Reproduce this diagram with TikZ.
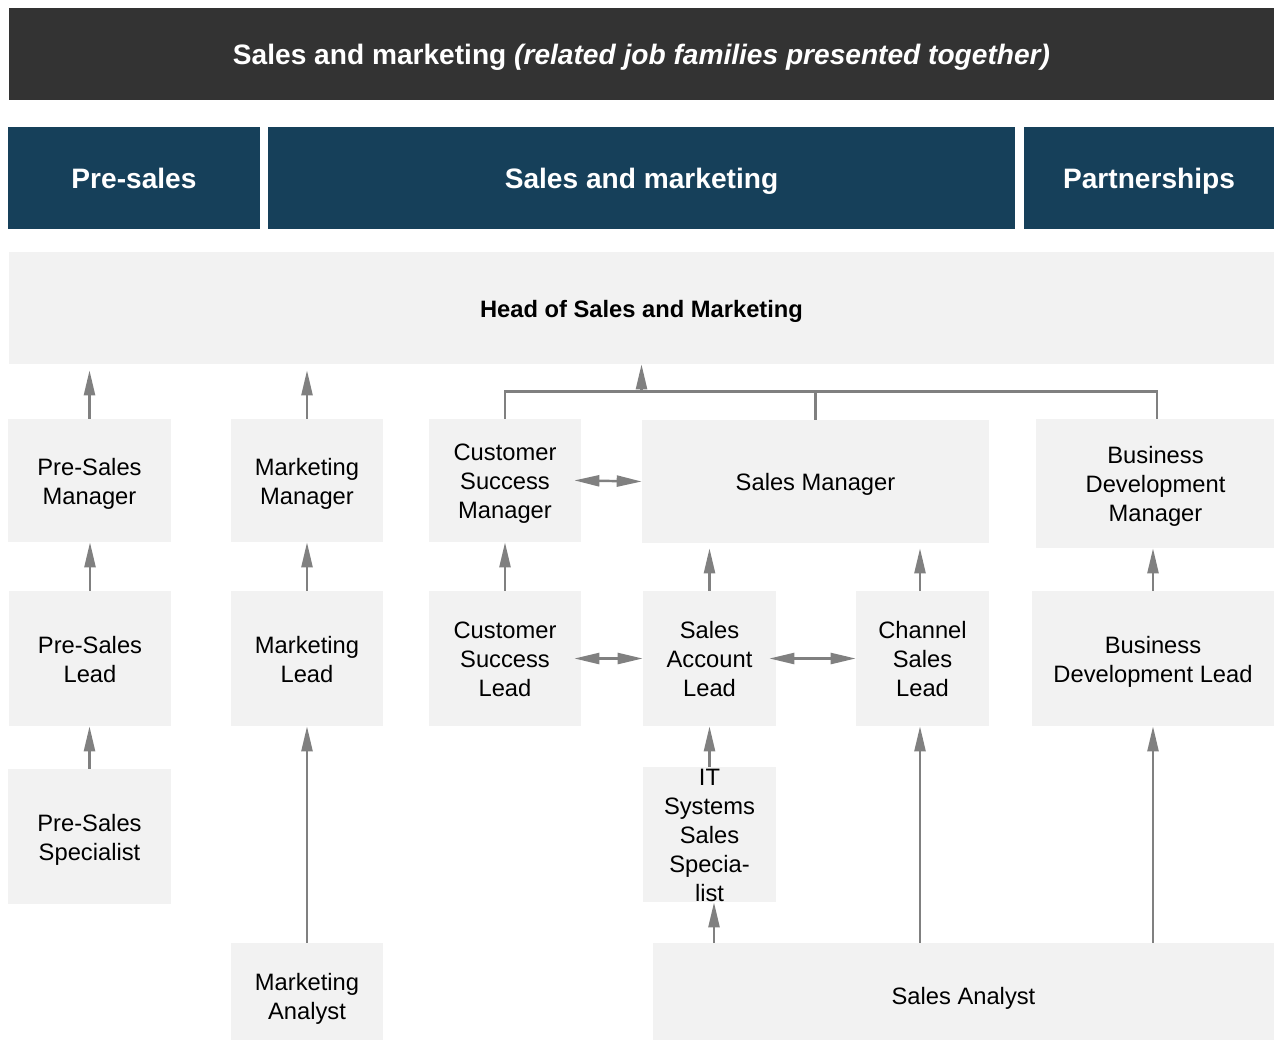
\documentclass[tikz,border=0pt]{standalone}
\usepackage{fontspec}
\setmainfont{Liberation Sans}
\usepackage{xcolor}
\usetikzlibrary{arrows.meta, positioning}
\definecolor{barGrey}{HTML}{333333}
\definecolor{bandBlue}{HTML}{16405A}
\definecolor{boxGrey}{HTML}{F2F2F2}
\definecolor{arrGrey}{HTML}{808080}
% struts on first and last line, so the caps sit in the middle of a box
\newcommand{\jobtext}[1]{\rule{0pt}{0.98em}#1\rule[-0.215em]{0pt}{0pt}}

\begin{document}
\begin{tikzpicture}[
    x=0.02cm, y=-0.02cm,
    txt/.style={execute at begin node={\rule{0pt}{0.98em}}, execute at end node={\rule[-0.215em]{0pt}{0pt}}},
    title/.style={txt, rectangle, fill=barGrey, text=white, minimum width=25.3cm, minimum height=1.84cm, font=\fontsize{16}{19}\selectfont\bfseries},
    band/.style={txt, rectangle, fill=bandBlue, text=white, minimum height=2.04cm, font=\fontsize{16}{19}\selectfont\bfseries},
    box/.style={rectangle, fill=boxGrey, align=center, inner sep=2pt, font=\fontsize{13.5}{16.5}\selectfont},
    arr/.style={-{Triangle[length=0.5cm, width=0.22cm]}, line width=1.4pt, draw=arrGrey},
    dbl/.style={{Triangle[length=0.5cm, width=0.22cm]}-{Triangle[length=0.5cm, width=0.22cm]}, line width=1.4pt, draw=arrGrey, shorten <=-0.14cm},
    link/.style={line width=1.4pt, draw=arrGrey}
]
\useasboundingbox (0,0) rectangle (1274,1039);

% Headers
\node[title] (top) at (641.5,54) {Sales and marketing \textit{(related job families presented together)}};
\node[band, minimum width=5.04cm] (presales) at (134,178) {Pre-sales};
\node[band, minimum width=14.94cm] (salesmkt) at (641.5,178) {Sales and marketing};
\node[band, minimum width=5.0cm] (partners) at (1149,178) {Partnerships};
\node[box, minimum width=25.3cm, minimum height=2.24cm, font=\fontsize{13.5}{16.5}\selectfont\bfseries] (head) at (641.5,308) {\jobtext{Head of Sales and Marketing}};

% Managers
\node[box, minimum width=3.26cm, minimum height=2.46cm] (psm) at (89.5,480.5) {\jobtext{Pre-Sales\\Manager}};
\node[box, minimum width=3.04cm, minimum height=2.46cm] (mm) at (307,480.5) {\jobtext{Marketing\\Manager}};
\node[box, minimum width=3.04cm, minimum height=2.46cm] (csm) at (505,480.5) {\jobtext{Customer\\Success\\Manager}};
\node[box, minimum width=6.94cm, minimum height=2.46cm] (sm) at (815.5,481.5) {\jobtext{Sales Manager}};
\node[box, minimum width=4.78cm, minimum height=2.58cm] (bdm) at (1155.5,483.5) {\jobtext{Business\\Development\\Manager}};

% Leads
\node[box, minimum width=3.24cm, minimum height=2.7cm] (psl) at (90,658.5) {\jobtext{Pre-Sales\\Lead}};
\node[box, minimum width=3.04cm, minimum height=2.7cm] (ml) at (307,658.5) {\jobtext{Marketing\\Lead}};
\node[box, minimum width=3.04cm, minimum height=2.7cm] (csl) at (505,658.5) {\jobtext{Customer\\Success\\Lead}};
\node[box, minimum width=2.66cm, minimum height=2.7cm] (sal) at (709.5,658.5) {\jobtext{Sales\\Account\\Lead}};
\node[box, minimum width=2.66cm, minimum height=2.7cm] (chsl) at (922.5,658.5) {\jobtext{Channel\\Sales\\Lead}};
\node[box, minimum width=4.84cm, minimum height=2.7cm] (bdl) at (1153,658.5) {\jobtext{Business\\Development Lead}};

% Specialists and analysts
\node[box, minimum width=3.26cm, minimum height=2.7cm] (pss) at (89.5,836.5) {\jobtext{Pre-Sales\\Specialist}};
\node[box, minimum width=2.66cm, minimum height=2.7cm] (itss) at (709.5,834.5) {};
\node[align=center, inner sep=0pt, font=\fontsize{13.5}{16.5}\selectfont] (itsstext) at (itss.center) {\jobtext{IT\\Systems\\Sales\\Specia-\\list}};
\node[box, minimum width=3.04cm, minimum height=2.1cm] (ma) at (307,995.5) {\jobtext{Marketing\\Analyst}};
\node[box, minimum width=12.42cm, minimum height=2.1cm] (sa) at (963.5,995.5) {\jobtext{Sales Analyst}};

% Arrows to head
\coordinate (bus) at ([yshift=-0.54cm]head.south);
\draw[arr, shorten >=0.12cm] (psm.north) -- (psm.north |- head.south);
\draw[arr, shorten >=0.12cm] (mm.north) -- (mm.north |- head.south);
\draw[link] (csm.north) |- (bus) -| ([xshift=0.03cm]bdm.north);
\draw[link] (sm.north) -- (sm.north |- bus);
\draw[arr] (bus) -- (head.south);

% Arrows between rows
\draw[arr] (psl.north) -- (psl.north |- psm.south);
\draw[arr] (pss.north) -- (pss.north |- psl.south);
\draw[arr] (ml.north) -- (ml.north |- mm.south);
\draw[arr] (ma.north) -- (ma.north |- ml.south);
\draw[arr] (csl.north) -- (csl.north |- csm.south);
\draw[arr, shorten >=0.1cm] (sal.north) -- (sal.north |- sm.south);
\draw[arr, shorten >=0.1cm] ([xshift=-0.05cm]chsl.north) -- ([xshift=-0.05cm]chsl.north |- sm.south);
\draw[arr] (bdl.north) -- (bdl.north |- bdm.south);
\draw[arr] (itss.north) -- (itss.north |- sal.south);
\draw[arr] ([xshift=0.09cm]itss.south |- sa.north) -- ([xshift=0.09cm]itss.south);
\draw[arr] ([xshift=-0.05cm]chsl.south |- sa.north) -- ([xshift=-0.05cm]chsl.south);
\draw[arr] (bdl.south |- sa.north) -- (bdl.south);

% Peer links
\draw[dbl] (csm.east) -- (sm.west);
\draw[dbl] (csl.east) -- (sal.west);
\draw[dbl] (sal.east) -- (chsl.west);

\end{tikzpicture}
\end{document}
